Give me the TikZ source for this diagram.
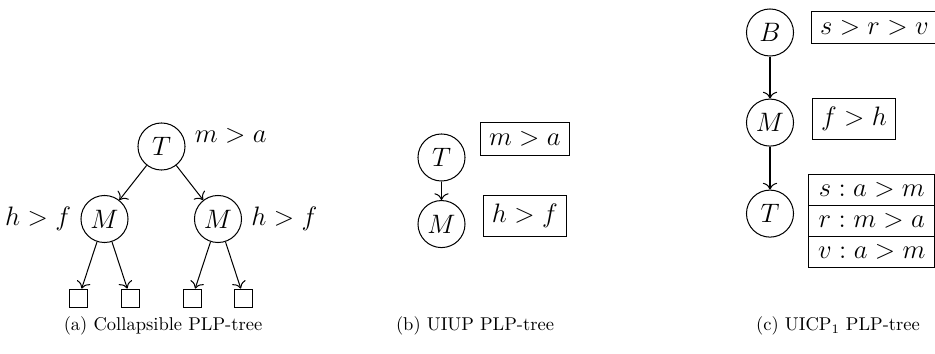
\documentclass[tikz,border=0pt]{standalone}
\usepackage{amsmath,amssymb}
\usepackage{tikz}
\usetikzlibrary{positioning,arrows.meta}
\tikzset{
  var/.style={draw, circle, minimum size=25.4pt, inner sep=0pt, font=\Large},
  pref/.style={draw, inner sep=4.8pt, font=\Large},
  row/.style={draw, minimum width=68pt, minimum height=16.6pt, inner sep=0pt, outer sep=0pt, font=\Large},
  leaf/.style={draw, minimum size=9.7pt, inner sep=0pt},
  lbl/.style={inner sep=4.8pt, font=\Large},
  arr/.style={-{To[scale=1.3]}},
  subcap/.style={anchor=base, font=\normalsize},
}
\begin{document}
\begin{tikzpicture}[x=0.54pt, y=0.54pt, line width=0.55pt]
\useasboundingbox (0,0) rectangle (935,-354);
% (a) collapsible tree
\node[var, label={[lbl, yshift=5.7pt]right:$m>a$}] (Ta) at (161.5,-146.5) {$T$};
\node[var, label={[lbl]left:$h>f$}] (Ma1) at (104.5,-219) {$M$};
\node[var, label={[lbl]right:$h>f$}] (Ma2) at (218,-219) {$M$};
\node[leaf, below=24.6pt of Ma1, xshift=-14pt] (l1) {};
\node[leaf, below=24.6pt of Ma1, xshift=14pt] (l2) {};
\node[leaf, below=24.6pt of Ma2, xshift=-14pt] (l3) {};
\node[leaf, below=24.6pt of Ma2, xshift=14pt] (l4) {};
\draw[arr] (Ta)--(Ma1); \draw[arr] (Ta)--(Ma2);
\foreach \m/\l in {Ma1/l1, Ma1/l2, Ma2/l3, Ma2/l4} \draw[arr] (\m)--(\l);
\node[subcap] (capa) at (163,-331) {(a) Collapsible PLP-tree};
% (b) UIUP
\node[var] (Tb) at (441.5,-157.5) {$T$};
\node[var, below=10pt of Tb] (Mb) {$M$};
\node[pref, right=7.6pt of Tb, yshift=10pt] (pb1) {$m>a$};
\node[pref, below=21pt of pb1] (pb2) {$h>f$};
\draw[arr] (Tb)--(Mb);
\node[subcap] (capb) at (475,-331) {(b) UIUP PLP-tree};
% (c) UICP_1
\node[var] (Bc) at (770,-32.5) {$B$};
\node[var, below=22.7pt of Bc] (Mc) {$M$};
\node[var, below=23.2pt of Mc] (Tc) {$T$};
\node[pref, right=9pt of Bc, yshift=2.7pt] (pc1) {$s>r>v$};
\node[pref, right=9.5pt of Mc, yshift=1.9pt] (pc2) {$f>h$};
\node[row, right=8pt of Tc, yshift=-4pt] (tr) {$r:m>a$};
\node[row, above=0pt of tr] (ts) {$s:a>m$};
\node[row, below=0pt of tr] (tv) {$v:a>m$};
\draw[arr] (Bc)--(Mc); \draw[arr] (Mc)--(Tc);
\node[subcap] (capc) at (838,-331) {(c) UICP$_1$ PLP-tree};
\end{tikzpicture}
\end{document}
